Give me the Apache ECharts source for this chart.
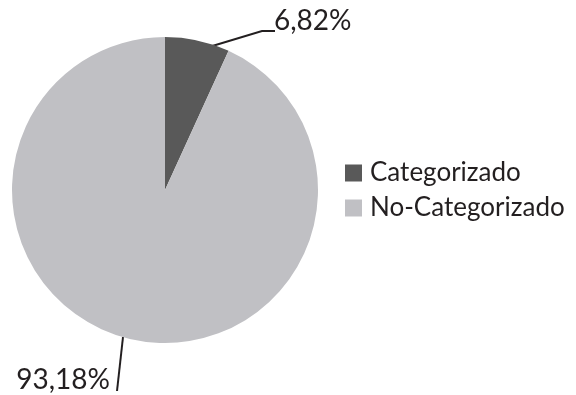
<!DOCTYPE html>
<html>
<head>
<meta charset="utf-8">
<script src="https://cdn.jsdelivr.net/npm/echarts@6/dist/echarts.min.js"></script>
<style>
  html, body { margin: 0; padding: 0; background: #fff; }
  #chart { width: 576px; height: 395px; }
</style>
</head>
<body>
<div id="chart"></div>
<script>
const categories = ['Categorizado', 'No-Categorizado']
const values = [6.82, 93.18]
const labelTexts = ['6,82%', '93,18%']
const colors = ['#595959', '#c0c0c4']

// etiquetas y guías como en la figura original
const labelPos = [
  { x: 274, y: 21, align: 'left', line: [[209, 47], [262, 31], [275, 31]] },
  { x: 110, y: 380, align: 'right', line: [[123, 337], [117, 391], [117, 391]] }
]

const chart = echarts.init(document.getElementById('chart'))

const option = {
  animation: false,
  textStyle: { fontFamily: 'Lato' },
  legend: {
    orient: 'vertical',
    left: 340,
    top: 155,
    itemWidth: 17,
    itemHeight: 17,
    itemGap: 9,
    icon: 'rect',
    data: categories,
    textStyle: { fontSize: 26, color: '#231f20', fontFamily: 'Lato', padding: [0, 0, 0, 3] }
  },
  series: [{
    type: 'pie',
    center: [165, 190],
    radius: 153,
    startAngle: 90,
    clockwise: true,
    data: categories.map((name, i) => ({
      name,
      value: values[i],
      itemStyle: { color: colors[i] }
    })),
    label: {
      show: true,
      position: 'outside',
      formatter: p => labelTexts[p.dataIndex],
      fontSize: 28,
      color: '#231f20',
      fontFamily: 'Lato'
    },
    labelLine: {
      show: true,
      length: 10,
      length2: 10,
      lineStyle: { color: '#231f20', width: 2 }
    },
    labelLayout: p => {
      const lp = labelPos[p.dataIndex]
      return {
        x: lp.x, y: lp.y, align: lp.align, verticalAlign: 'middle',
        labelLinePoints: lp.line
      }
    }
  }]
}

chart.setOption(option)
</script>
</body>
</html>
